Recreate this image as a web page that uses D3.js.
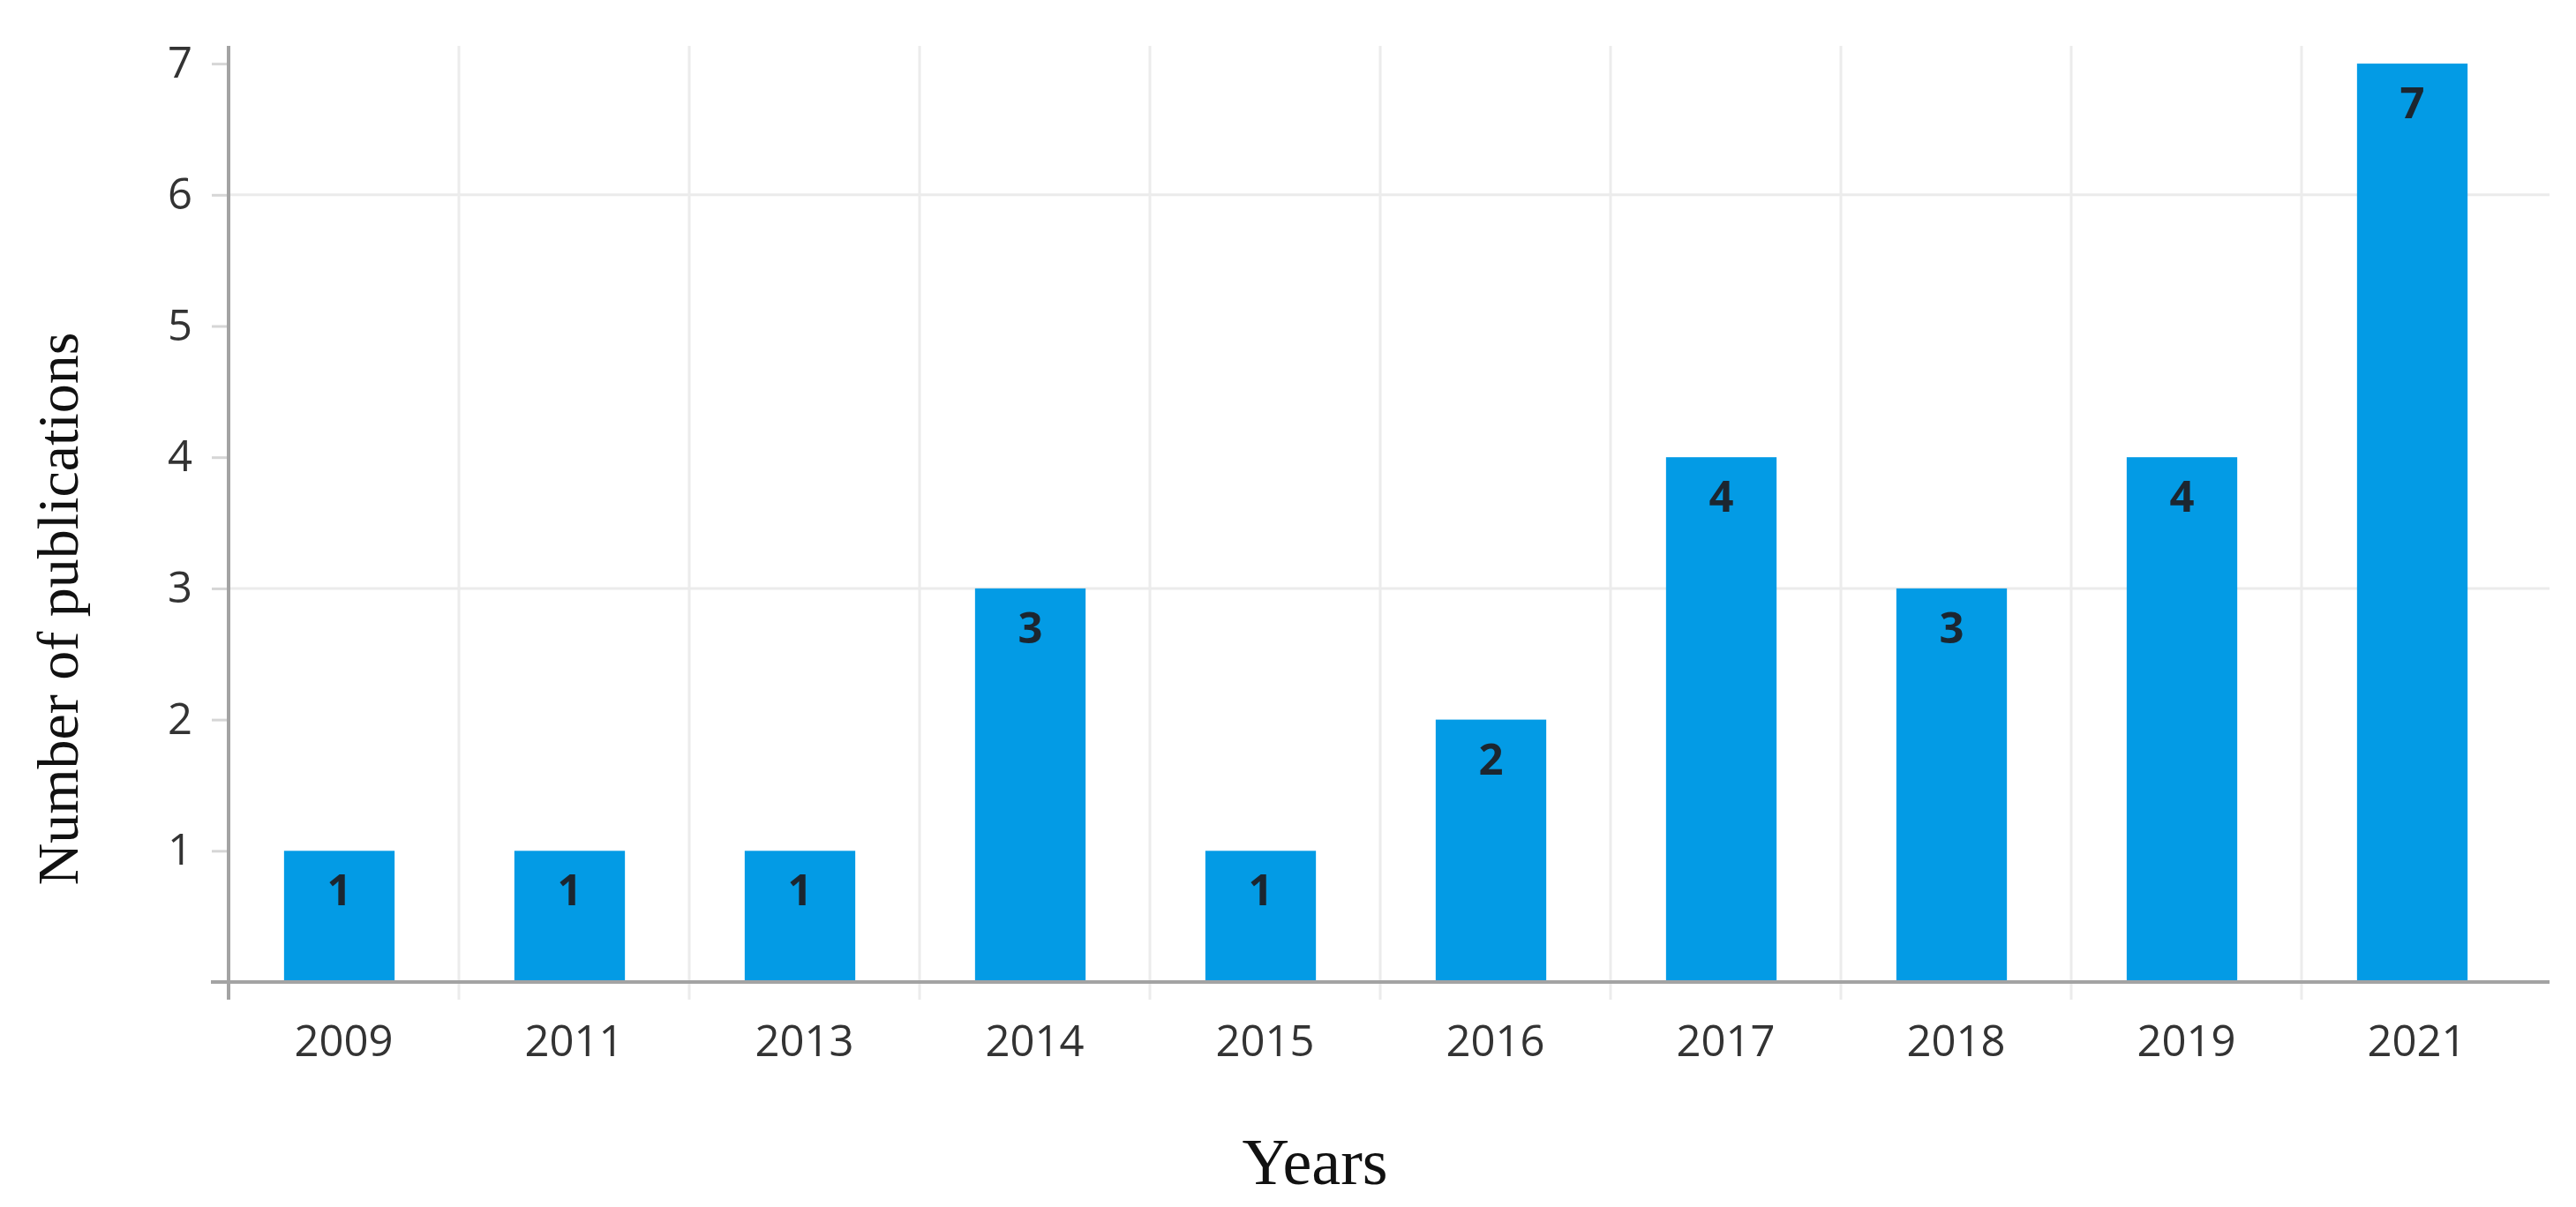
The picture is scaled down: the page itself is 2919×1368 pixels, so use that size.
<!DOCTYPE html>
<html><head><meta charset="utf-8">
<script src="https://cdn.jsdelivr.net/npm/d3@7"></script>
<style>html,body{margin:0;padding:0;background:#fff;}</style>
</head><body>
<svg id="chart" width="2919" height="1368"></svg>
<script>
const years = ["2009","2011","2013","2014","2015","2016","2017","2018","2019","2021"];
const publications = [1,1,1,3,1,2,4,3,4,7];
const yTicks = [1,2,3,4,5,6,7];
const yGrid = [3,6];

const svg = d3.select("#chart");
const mLeft = 259, mRight = 2869, mTop = 52, mBottom = 1113;

const x = d3.scaleBand().domain(years).range([mLeft, mRight]).paddingInner(0.52).paddingOuter(0.26);
const y = d3.scaleLinear().domain([0, 7]).range([mBottom, mBottom - 7 * 148.7]);
const step = x.step();
const bounds = years.slice(1).map(d => x(d) - step * x.paddingInner() / 2);

// horizontal grid
svg.append("g").selectAll("line").data(yGrid).join("line")
  .attr("x1", mLeft).attr("x2", mRight + 20)
  .attr("y1", d => y(d)).attr("y2", d => y(d))
  .attr("stroke", "#ebebeb").attr("stroke-width", 3);
// vertical grid
svg.append("g").selectAll("line").data(bounds).join("line")
  .attr("x1", d => d).attr("x2", d => d)
  .attr("y1", mTop).attr("y2", mBottom + 20)
  .attr("stroke", "#ececec").attr("stroke-width", 3);

// y axis
const yAxis = svg.append("g").attr("transform", `translate(${mLeft},0)`)
  .call(d3.axisLeft(y).tickValues(yTicks).tickSize(19).tickPadding(22).tickFormat(d3.format("d")));
yAxis.select(".domain").remove();
yAxis.selectAll(".tick line").attr("stroke", "#d6d6d6").attr("stroke-width", 3);
yAxis.selectAll(".tick text").attr("font-family", "'Open Sans', sans-serif").attr("font-size", 49).attr("fill", "#333");

// x axis
const xAxis = svg.append("g").attr("transform", `translate(0,${mBottom})`)
  .call(d3.axisBottom(x).tickSize(0).tickPadding(49));
xAxis.select(".domain").remove();
xAxis.selectAll(".tick text").attr("font-family", "'Open Sans', sans-serif").attr("font-size", 49).attr("fill", "#333");

// bars
svg.append("g").selectAll("rect").data(publications).join("rect")
  .attr("x", (d, i) => x(years[i]) - 5)
  .attr("width", x.bandwidth())
  .attr("y", d => y(d))
  .attr("height", d => y(0) - y(d))
  .attr("fill", "#039be5");

// value labels
svg.append("g").selectAll("text").data(publications).join("text")
  .attr("x", (d, i) => x(years[i]) - 5 + x.bandwidth() / 2)
  .attr("y", d => y(d) + 62)
  .attr("text-anchor", "middle")
  .attr("font-family", "'Open Sans', sans-serif").attr("font-weight", "bold")
  .attr("font-size", 49).attr("fill", "#1c2630")
  .text(d => d);

// axis lines
svg.append("line").attr("x1", mLeft).attr("x2", mLeft).attr("y1", mTop).attr("y2", mBottom + 20)
  .attr("stroke", "#a3a3a3").attr("stroke-width", 4);
svg.append("line").attr("x1", mLeft - 20).attr("x2", mRight + 20).attr("y1", mBottom).attr("y2", mBottom)
  .attr("stroke", "#a3a3a3").attr("stroke-width", 4);

// titles
svg.append("text").attr("x", 1490).attr("y", 1342).attr("text-anchor", "middle")
  .attr("font-family", "'Liberation Serif', 'Times New Roman', serif").attr("font-size", 74).attr("fill", "#111")
  .text("Years");
svg.append("text").attr("transform", "translate(88,690) rotate(-90)").attr("text-anchor", "middle")
  .attr("font-family", "'Liberation Serif', 'Times New Roman', serif").attr("font-size", 66).attr("fill", "#111")
  .text("Number of publications");
</script>
</body></html>
